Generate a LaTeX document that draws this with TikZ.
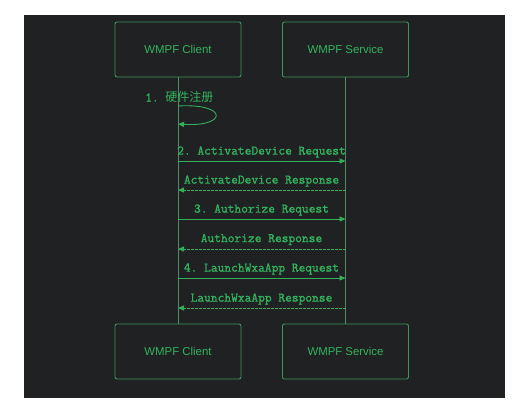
\documentclass[tikz,border=0pt]{standalone}
\usepackage{fontspec}
\setmainfont{Liberation Sans}
\setmonofont{Latin Modern Mono}[FakeBold=1.2]
\newfontfamily\cjk{Noto Sans CJK SC}
\usetikzlibrary{arrows.meta}
\definecolor{bgdark}{RGB}{32,33,35}
\definecolor{txtgreen}{RGB}{50,180,95}
\definecolor{boxgreen}{RGB}{62,150,92}
\definecolor{lifegreen}{RGB}{78,140,100}
\definecolor{arrgreen}{RGB}{52,175,92}
\tikzset{
  actor/.style={draw=boxgreen, line width=0.9pt, rounded corners=2pt, minimum width=126pt, minimum height=55pt, inner sep=0pt, text=txtgreen, font=\fontsize{11.4}{13}\selectfont},
  lifeline/.style={draw=lifegreen, line width=0.8pt},
  msg/.style={draw=arrgreen, line width=0.9pt, -{Triangle[length=6pt,width=5pt]}},
  reply/.style={msg, dash pattern=on 2.2pt off 1.8pt},
  msglabel/.style={text=txtgreen, font=\ttfamily\bfseries\fontsize{13.1}{15}\selectfont, inner sep=0pt}
}
\begin{document}
\begin{tikzpicture}[x=1pt,y=-1pt]
\useasboundingbox[fill=white] (0,0) rectangle (513,407);
\fill[bgdark] (24,15) rectangle (505,398);
% actors
\node[actor] (clientT) at (178,49.5) {WMPF Client};
\node[actor] (serviceT) at (345.5,49.5) {WMPF Service};
\node[actor] (clientB) at (178,351.5) {WMPF Client};
\node[actor] (serviceB) at (345.5,351.5) {WMPF Service};
% lifelines
\draw[lifeline] (clientT.south) -- (clientB.north);
\draw[lifeline] (serviceT.south) -- (serviceB.north);
% self message
\coordinate (s1) at (178,106);
\coordinate (s2) at (178,124);
\node[msglabel, anchor=west] (l1) at (145,97) {1. {\cjk\mdseries\fontsize{12}{14}\selectfont 硬件注册}};
\draw[msg] (s1) .. controls (228,103) and (228,127) .. (s2);
% messages
\coordinate (c2) at (178,161); \coordinate (v2) at (345.5,161);
\coordinate (c3) at (178,190); \coordinate (v3) at (345.5,190);
\coordinate (c4) at (178,219); \coordinate (v4) at (345.5,219);
\coordinate (c5) at (178,249); \coordinate (v5) at (345.5,249);
\coordinate (c6) at (178,278); \coordinate (v6) at (345.5,278);
\coordinate (c7) at (178,308); \coordinate (v7) at (345.5,308);
\node[msglabel] (l2) at (261.5,152) {2. ActivateDevice Request};
\draw[msg] (c2) -- (v2);
\node[msglabel] (l3) at (261.5,181) {ActivateDevice Response};
\draw[reply] (v3) -- (c3);
\node[msglabel] (l4) at (261.5,210) {3. Authorize Request};
\draw[msg] (c4) -- (v4);
\node[msglabel] (l5) at (261.5,239.5) {Authorize Response};
\draw[reply] (v5) -- (c5);
\node[msglabel] (l6) at (261.5,269) {4. LaunchWxaApp Request};
\draw[msg] (c6) -- (v6);
\node[msglabel] (l7) at (261.5,299) {LaunchWxaApp Response};
\draw[reply] (v7) -- (c7);
\end{tikzpicture}
\end{document}
